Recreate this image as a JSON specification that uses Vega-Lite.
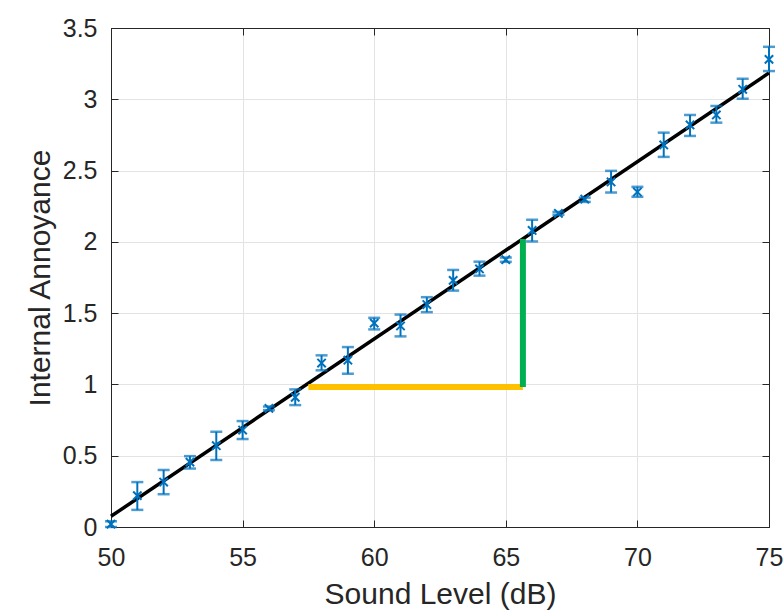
{
  "$schema": "https://vega.github.io/schema/vega-lite/v6.json",
  "autosize": {"type": "none"},
  "width": 658,
  "height": 499,
  "padding": {"left": 111, "top": 28, "right": 15, "bottom": 86},
  "background": "white",
  "config": {
    "font": "Liberation Sans",
    "view": {"stroke": "#262626", "strokeWidth": 1},
    "axis": {
      "domainColor": "#262626",
      "tickColor": "#262626",
      "labelColor": "#262626",
      "titleColor": "#262626",
      "gridColor": "#e3e3e3",
      "gridWidth": 1,
      "labelFont": "Liberation Sans",
      "titleFont": "Liberation Sans",
      "labelFontSize": 25,
      "titleFontSize": 30,
      "titleFontWeight": "normal",
      "labelFlush": false,
      "labelOverlap": false,
      "format": "~g",
      "tickSize": -7
    }
  },
  "resolve": {"axis": {"x": "independent", "y": "independent"}},
  "datasets": {
    "ratings": [
      {"level": 50, "annoyance": 0.02, "lo": 0.00, "hi": 0.04},
      {"level": 51, "annoyance": 0.22, "lo": 0.12, "hi": 0.315},
      {"level": 52, "annoyance": 0.315, "lo": 0.23, "hi": 0.40},
      {"level": 53, "annoyance": 0.455, "lo": 0.41, "hi": 0.497},
      {"level": 54, "annoyance": 0.57, "lo": 0.47, "hi": 0.668},
      {"level": 55, "annoyance": 0.68, "lo": 0.617, "hi": 0.743},
      {"level": 56, "annoyance": 0.832, "lo": 0.82, "hi": 0.845},
      {"level": 57, "annoyance": 0.91, "lo": 0.855, "hi": 0.965},
      {"level": 58, "annoyance": 1.15, "lo": 1.099, "hi": 1.204},
      {"level": 59, "annoyance": 1.17, "lo": 1.075, "hi": 1.262},
      {"level": 60, "annoyance": 1.43, "lo": 1.386, "hi": 1.467},
      {"level": 61, "annoyance": 1.41, "lo": 1.337, "hi": 1.49},
      {"level": 62, "annoyance": 1.56, "lo": 1.507, "hi": 1.612},
      {"level": 63, "annoyance": 1.73, "lo": 1.658, "hi": 1.803},
      {"level": 64, "annoyance": 1.81, "lo": 1.763, "hi": 1.861},
      {"level": 65, "annoyance": 1.875, "lo": 1.86, "hi": 1.89},
      {"level": 66, "annoyance": 2.08, "lo": 2.003, "hi": 2.155},
      {"level": 67, "annoyance": 2.2, "lo": 2.19, "hi": 2.21},
      {"level": 68, "annoyance": 2.3, "lo": 2.28, "hi": 2.31},
      {"level": 69, "annoyance": 2.42, "lo": 2.346, "hi": 2.498},
      {"level": 70, "annoyance": 2.35, "lo": 2.316, "hi": 2.386},
      {"level": 71, "annoyance": 2.68, "lo": 2.596, "hi": 2.766},
      {"level": 72, "annoyance": 2.82, "lo": 2.743, "hi": 2.89},
      {"level": 73, "annoyance": 2.89, "lo": 2.836, "hi": 2.953},
      {"level": 74, "annoyance": 3.07, "lo": 3.004, "hi": 3.144},
      {"level": 75, "annoyance": 3.28, "lo": 3.198, "hi": 3.368}
    ],
    "fit": [
      {"level": 50, "annoyance": 0.075},
      {"level": 75, "annoyance": 3.185}
    ],
    "slope": [
      {"part": "run", "x1": 57.5, "x2": 65.65, "y1": 0.982, "y2": 0.982},
      {"part": "rise", "x1": 65.65, "x2": 65.65, "y1": 0.982, "y2": 2.02}
    ]
  },
  "layer": [
    {
      "data": {"name": "fit"},
      "mark": {"type": "line", "color": "black", "strokeWidth": 3.5},
      "encoding": {
        "x": {
          "field": "level", "type": "quantitative",
          "scale": {"domain": [50, 75], "nice": false},
          "axis": {"values": [50, 55, 60, 65, 70, 75], "title": "Sound Level (dB)", "labelPadding": 25, "titlePadding": 9, "grid": true}
        },
        "y": {
          "field": "annoyance", "type": "quantitative",
          "scale": {"domain": [0, 3.5], "nice": false},
          "axis": {"values": [0, 0.5, 1, 1.5, 2, 2.5, 3, 3.5], "title": "Internal Annoyance", "labelPadding": 21, "titlePadding": 7, "grid": true}
        }
      }
    },
    {
      "data": {"name": "slope"},
      "mark": {"type": "rule", "strokeWidth": 6, "strokeCap": "butt"},
      "encoding": {
        "x": {
          "field": "x1", "type": "quantitative",
          "axis": {"orient": "top", "values": [50, 55, 60, 65, 70, 75], "labels": false, "title": null, "grid": false}
        },
        "x2": {"field": "x2"},
        "y": {
          "field": "y1", "type": "quantitative",
          "axis": {"orient": "right", "values": [0, 0.5, 1, 1.5, 2, 2.5, 3, 3.5], "labels": false, "title": null, "grid": false}
        },
        "y2": {"field": "y2"},
        "color": {"field": "part", "type": "nominal", "scale": {"domain": ["run", "rise"], "range": ["#FFC000", "#00B050"]}, "legend": null}
      }
    },
    {
      "data": {"name": "ratings"},
      "mark": {"type": "rule", "color": "#0072BD", "strokeWidth": 2},
      "encoding": {
        "x": {"field": "level", "type": "quantitative", "axis": null},
        "y": {"field": "lo", "type": "quantitative", "axis": null},
        "y2": {"field": "hi"}
      }
    },
    {
      "data": {"name": "ratings"},
      "mark": {"type": "tick", "color": "#0072BD", "orient": "horizontal", "size": 12, "thickness": 2.5},
      "encoding": {
        "x": {"field": "level", "type": "quantitative", "axis": null},
        "y": {"field": "lo", "type": "quantitative", "axis": null}
      }
    },
    {
      "data": {"name": "ratings"},
      "mark": {"type": "tick", "color": "#0072BD", "orient": "horizontal", "size": 12, "thickness": 2.5},
      "encoding": {
        "x": {"field": "level", "type": "quantitative", "axis": null},
        "y": {"field": "hi", "type": "quantitative", "axis": null}
      }
    },
    {
      "data": {"name": "ratings"},
      "mark": {"type": "point", "shape": "M-1,-1L1,1M-1,1L1,-1", "size": 70, "filled": false, "opacity": 1, "stroke": "#0072BD", "strokeWidth": 2},
      "encoding": {
        "x": {"field": "level", "type": "quantitative", "axis": null},
        "y": {"field": "annoyance", "type": "quantitative", "axis": null}
      }
    }
  ]
}
